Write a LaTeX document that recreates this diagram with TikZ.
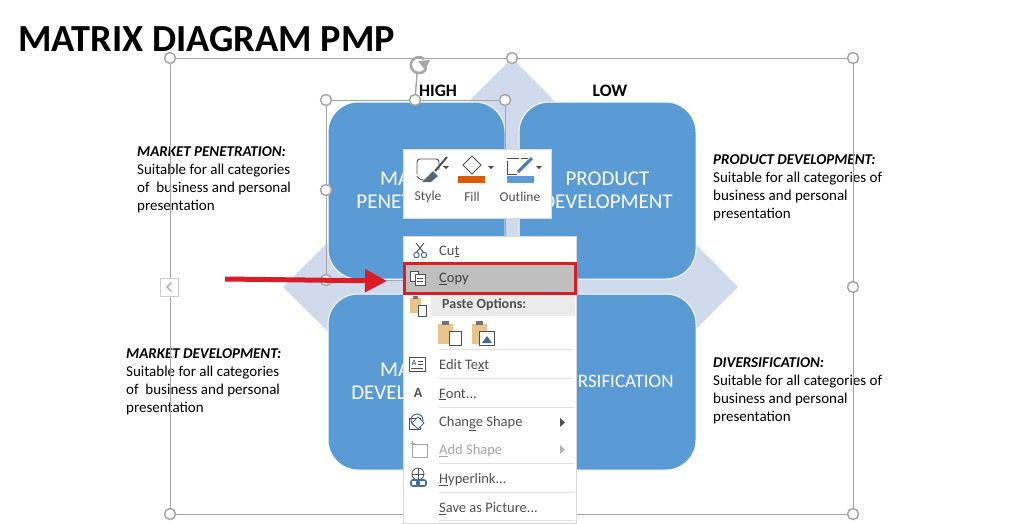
\documentclass[tikz,border=0pt]{standalone}
\usepackage{xcolor}
\usepackage{fontspec}
\setmainfont{Carlito}
\usetikzlibrary{arrows.meta}
\definecolor{boxblue}{HTML}{5B9BD5}
\definecolor{diamondblue}{HTML}{CFDAED}
\definecolor{framegray}{HTML}{A6A6A6}
\definecolor{menugray}{HTML}{505050}
\definecolor{copyred}{HTML}{DA1C26}
\definecolor{clipboard}{HTML}{E8C48C}
\tikzset{
  quadbox/.style={draw=white,line width=1pt,fill=boxblue,rounded corners=30pt},
  quadtext/.style={text=white,font=\fontsize{21}{23}\selectfont,align=center,inner sep=0pt},
  handle/.style={circle,draw=framegray,fill=white,line width=1.5pt,minimum size=11pt,inner sep=0pt},
  headtext/.style={font=\fontsize{17.5}{20}\selectfont\bfseries,inner sep=0pt},
  sidetext/.style={font=\fontsize{15}{18}\selectfont,align=left,anchor=north west,inner sep=0pt},
  menuitem/.style={font=\fontsize{14.5}{17}\selectfont,text=menugray,anchor=west,inner sep=0pt},
  toolitem/.style={font=\fontsize{13.5}{16}\selectfont,text=menugray,inner sep=0pt},
  menuline/.style={draw=black!12,line width=0.8pt},
}
\begin{document}
\begin{tikzpicture}[x=1pt,y=-1pt]
\useasboundingbox (0,0) rectangle (1010,523);
\fill[white] (0,0) rectangle (1010,523);
% diamond behind the four boxes
\fill[diamondblue] (512,58) -- (738,287) -- (512,514) -- (283,287) -- cycle;
\draw[quadbox] (328,102) rectangle (505,279);
\draw[quadbox] (519,102) rectangle (696,279);
\draw[quadbox] (328,294) rectangle (505,470);
\draw[quadbox] (519,294) rectangle (696,470);
% box labels
\node[quadtext] (penetration) at (416.5,190) {MARKET\\PENETRATION};
\node[quadtext] (product) at (607.5,190) {PRODUCT\\DEVELOPMENT};
\node[quadtext] (development) at (416.5,381) {MARKET\\DEVELOPMENT};
\node[quadtext,font=\fontsize{19}{23}\selectfont] (diversification) at (607.5,381) {DIVERSIFICATION};
% title and column heads
\node[font=\fontsize{38.3}{44}\selectfont\bfseries,anchor=west,inner sep=0pt] (title) at (18,39.5) {MATRIX DIAGRAM PMP};
\node[headtext] (high) at (438,91) {HIGH};
\node[headtext] (low) at (610,91) {LOW};
% side texts
\node[sidetext] (textpen) at (137,146.5) {\textbf{\textit{MARKET PENETRATION:}}\\Suitable for all categories\\of\ \ business and personal\\presentation};
\node[sidetext] (textprod) at (713,154.5) {\textbf{\textit{PRODUCT DEVELOPMENT:}}\\Suitable for all categories of\\business and personal\\presentation};
\node[sidetext] (textdev) at (126,348.5) {\textbf{\textit{MARKET DEVELOPMENT:}}\\Suitable for all categories\\of\ \ business and personal\\presentation};
\node[sidetext] (textdiv) at (713,357.5) {\textbf{\textit{DIVERSIFICATION:}}\\Suitable for all categories of\\business and personal\\presentation};
% selection frames
\draw[framegray,line width=1pt] (170,58) rectangle (853,514);
\draw[framegray,line width=1pt] (326,100) rectangle (505,280);
\draw[framegray,line width=1.4pt] (417,74) -- (415,100);
\foreach \px/\py in {170/58,512/58,853/58,170/287,853/287,170/514,512/514,853/514,326/100,415/100,505/100,326/190,326/280}
  \node[handle] at (\px,\py) {};
% rotate handle
\draw[framegray,line width=2.6pt] (424,59) arc (-50:-340:8);
\fill[framegray] (418,61) -- (430,60) -- (425,70) -- cycle;
% collapse tab
\node[draw=black!20,fill=white,minimum size=18pt,inner sep=0pt] (tab) at (169,287) {};
\draw[framegray,line width=1.4pt] (171.5,282.5) -- (167,287) -- (171.5,291.5);
% mini toolbar
\draw[draw=black!15,fill=white] (403,149) rectangle (551,218);
\node[toolitem] (style) at (428,197) {Style};
\node[toolitem] (fill) at (472,197) {Fill};
\node[toolitem] (outline) at (520,197) {Outline};
\draw[menugray,line width=0.9pt,rounded corners=3pt] (417,174) -- (417,159) -- (439,159) -- (439,170) (428,180) -- (420,180) -- (417,176);
\draw[menugray,line width=2pt] (447,157) -- (435,171);
\fill[menugray!70!boxblue] (422,182) -- (433,171) -- (438,176) -- (431,182) -- cycle;
\fill[menugray] (443,166) -- (449,166) -- (446,169) -- cycle;
\draw[menugray,line width=0.9pt] (463,165) -- (472,156) -- (481,165) -- (472,174) -- cycle;
\fill[menugray] (488,166) -- (494,166) -- (491,169) -- cycle;
\fill[orange!85!red!85!black] (458,176) rectangle (485,183);
\draw[menugray,line width=0.9pt,dash pattern=on 13pt off 2pt] (507,174) -- (507,158) -- (528,158);
\draw[menugray,line width=0.9pt] (507,174) -- (517,174);
\draw[boxblue!80!black,line width=3pt] (532,158) -- (518,172);
\fill[menugray] (536,166) -- (542,166) -- (539,169) -- cycle;
\fill[boxblue] (507,176) rectangle (534,183);
% context menu
\draw[draw=black!15,fill=white] (403,236) rectangle (576,523);
\fill[black!8] (431,295) rectangle (575,316);
\draw[fill=black!25,draw=copyred,line width=3pt] (404.5,263) rectangle (575,293);
% menu icons
\draw[menugray,line width=1pt] (416,253) -- (424,243) (424,253) -- (416,243);
\draw[boxblue!70!black,line width=1pt] (416.5,255) circle (2.7) (424,255) circle (2.7);
\draw[menugray,line width=0.7pt,fill=white] (410,271) rectangle (418,281);
\draw[menugray,line width=0.7pt,fill=white] (415,274) rectangle (425,285);
\draw[menugray,line width=0.5pt] (417,278) -- (423,278) (417,281) -- (423,281);
\fill[clipboard] (410,298) rectangle (421,313);
\fill[menugray!80] (413,296) rectangle (418,299);
\draw[menugray,line width=0.7pt,fill=white] (418,305) rectangle (426,316);
\fill[clipboard] (438,324) rectangle (453,344);
\fill[menugray!80] (442,321) rectangle (449,325);
\draw[menugray,line width=0.7pt,fill=white] (449,331) rectangle (461,345);
\fill[clipboard] (472,324) rectangle (487,344);
\fill[menugray!80] (476,321) rectangle (483,325);
\draw[menugray,line width=0.7pt,fill=white] (479,331) rectangle (494,345);
\fill[boxblue!70!black] (482,343) -- (487,336) -- (492,343) -- cycle;
\draw[menugray,line width=0.6pt,fill=white] (409,357) rectangle (425,371);
\node[font=\fontsize{8}{8}\selectfont\bfseries,text=boxblue!70!black,inner sep=0pt] (editicon) at (414,363) {A};
\draw[menugray,line width=0.5pt] (418,361) -- (423,361) (418,364) -- (423,364) (411,368) -- (423,368);
\node[font=\fontsize{14}{14}\selectfont\bfseries,text=menugray,inner sep=0pt] (fonticon) at (418,393) {A};
\draw[menugray,line width=0.8pt] (409,418) rectangle (420,429);
\draw[boxblue!70!black,line width=1pt] (417,420) circle (6);
\draw[boxblue!70!black,fill=white,line width=1pt] (412,423) -- (418,417) -- (424,423) -- (418,429) -- cycle;
\draw[black!35,fill=white,line width=0.8pt] (412,444) rectangle (427,457);
\draw[black!35,line width=0.8pt] (410,443) -- (415,443) (412.5,440.5) -- (412.5,445.5);
\draw[menugray,line width=0.8pt] (418,474) circle (6);
\draw[menugray,line width=0.5pt] (412,474) -- (424,474) (418,468) -- (418,480);
\draw[boxblue!70!black,line width=1.6pt,rounded corners=2pt] (411,480) rectangle (419,486) (417,480) rectangle (426,486);
% menu entries
\node[menuitem] (cut) at (439,251.5) {Cu\underline{t}};
\node[menuitem,text=black!75] (copy) at (439,279) {\underline{C}opy};
\node[menuitem,font=\fontsize{14}{17}\selectfont\bfseries] (paste) at (442,304.5) {Paste Options:};
\node[menuitem] (edit) at (439,365) {Edit Te\underline{x}t};
\node[menuitem] (font) at (439,394.5) {\underline{F}ont...};
\node[menuitem] (change) at (439,423.5) {Chan\underline{g}e Shape};
\node[menuitem,text=black!35] (add) at (439,450.5) {\underline{A}dd Shape};
\node[menuitem] (link) at (439,479.5) {\underline{H}yperlink...};
\node[menuitem] (save) at (439,508.5) {\underline{S}ave as Picture...};
\fill[menugray] (560,418) -- (565,422.5) -- (560,427) -- cycle;
\fill[black!30] (560,445) -- (565,449.5) -- (560,454) -- cycle;
\foreach \ly in {349,378,407,463,492,520}
  \draw[menuline] (439,\ly) -- (574,\ly);
% red pointer
\coordinate (pointer) at (225,279);
\coordinate (pointertip) at (387,281);
\draw[copyred,line width=5pt,-{Triangle[length=22pt,width=22pt]}] (pointer) -- (pointertip);
\end{tikzpicture}
\end{document}
